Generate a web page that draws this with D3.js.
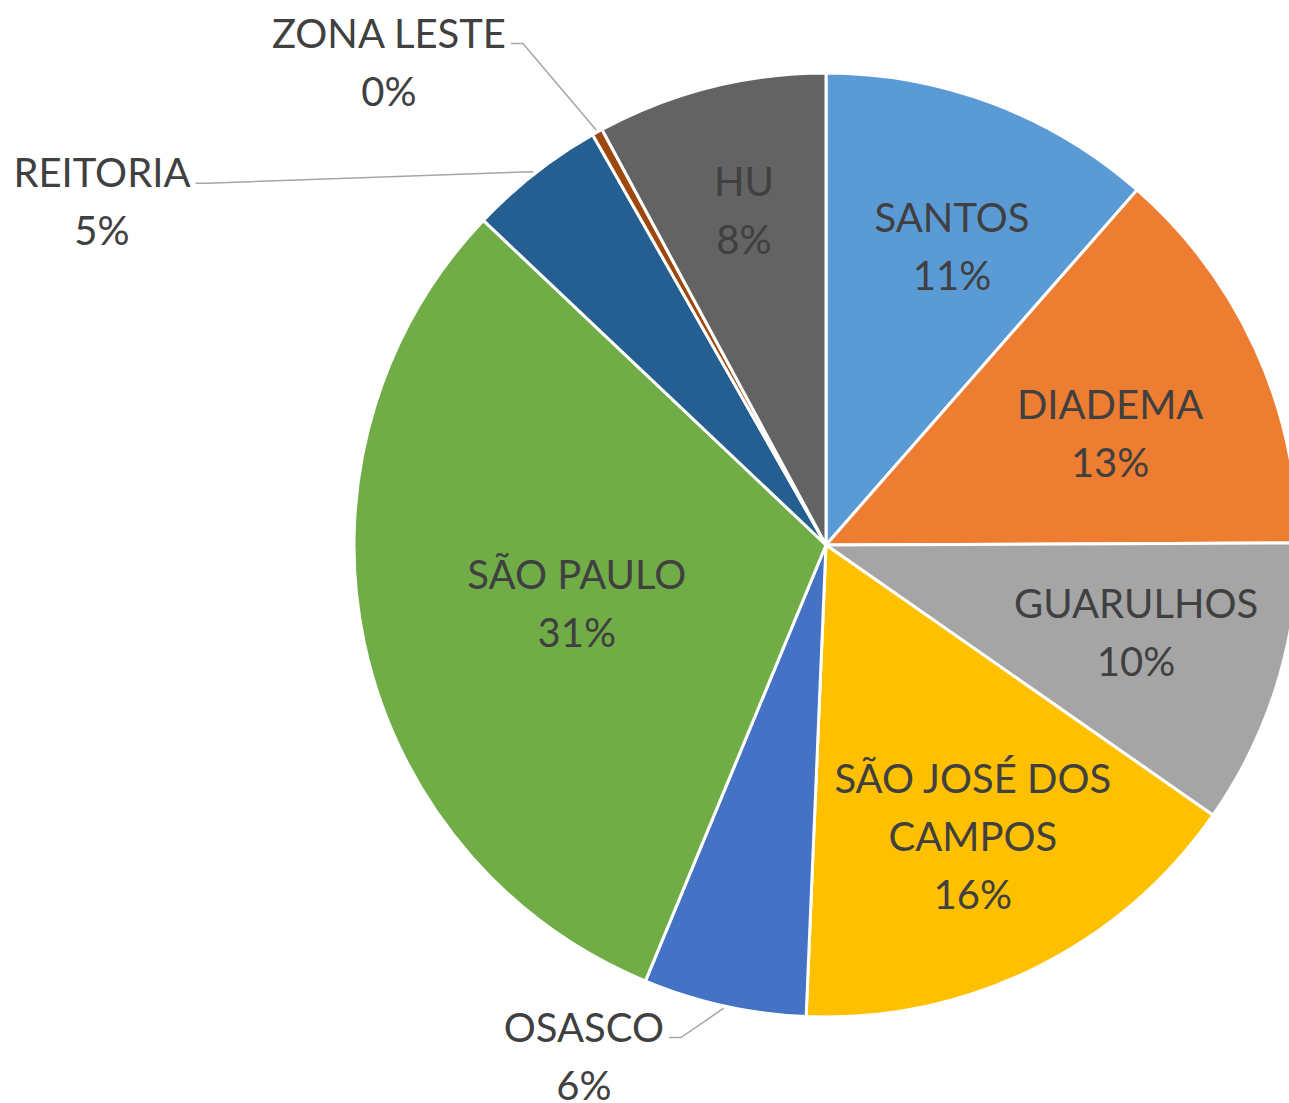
<!DOCTYPE html>
<html>
<head>
<meta charset="utf-8">
<script src="https://cdn.jsdelivr.net/npm/d3@7"></script>
<style>
  body { margin: 0; background: #fff; }
  text { font-family: Lato, "Open Sans", sans-serif; fill: #404040; }
</style>
</head>
<body>
<svg id="pie"></svg>
<script>
// campus names, clockwise from 12 o'clock
var campi = ["SANTOS", "DIADEMA", "GUARULHOS", "SÃO JOSÉ DOS CAMPOS", "OSASCO",
             "SÃO PAULO", "REITORIA", "ZONA LESTE", "HU"];

// share of each campus (in %)
var shares = [11.45, 13.48, 9.77, 15.97, 5.58, 30.82, 4.70, 0.36, 7.87];

// Office palette
var sliceColors = ["#5B9BD5", "#ED7D31", "#A5A5A5", "#FFC000", "#4472C4",
                   "#70AD47", "#255E91", "#9E480E", "#636363"];

// labels placed outside the pie with a leader line
var outsideLabels = ["OSASCO", "REITORIA", "ZONA LESTE"];

var width = 1289, height = 1103;
var cx = 826, cy = 545, radius = 472;
var fontSize = 40, lineGap = 58;

var svg = d3.select("#pie")
    .attr("width", width)
    .attr("height", height);

var g = svg.append("g")
    .attr("transform", "translate(" + cx + "," + cy + ")");

var color = d3.scaleOrdinal().domain(campi).range(sliceColors);

var pie = d3.pie().sort(null).value(d => d.value);
var data = campi.map((name, i) => ({ name: name, value: shares[i] }));
var arcs = pie(data);
var total = d3.sum(shares);
var pct = d3.format(".0%");

var arc = d3.arc().innerRadius(0).outerRadius(radius);

// slices
g.selectAll("path.slice")
    .data(arcs)
    .enter()
    .append("path")
    .attr("class", "slice")
    .attr("d", arc)
    .attr("fill", d => color(d.data.name))
    .attr("stroke", "#fff")
    .attr("stroke-width", 3)
    .attr("stroke-linejoin", "round");

// point on a circle for a given angle (0 = up, clockwise)
function polar(angle, r) {
    return [Math.sin(angle) * r, -Math.cos(angle) * r];
}

// break a name into lines no wider than maxW
function wrapLines(name, maxW) {
    var probe = g.append("text").style("font-size", fontSize + "px");
    var words = name.split(" "), lines = [], cur = "";
    words.forEach(w => {
        var test = cur ? cur + " " + w : w;
        probe.text(test);
        if (probe.node().getComputedTextLength() > maxW && cur) {
            lines.push(cur);
            cur = w;
        } else {
            cur = test;
        }
    });
    lines.push(cur);
    probe.remove();
    return lines;
}

// draw a centered block of lines, block centre at (x, y)
function drawLabel(lines, x, y) {
    var t = g.append("text")
        .attr("text-anchor", "middle")
        .style("font-size", fontSize + "px");
    var top = y - (lines.length - 1) * lineGap / 2;
    lines.forEach((l, i) => {
        t.append("tspan")
            .attr("x", x)
            .attr("y", top + i * lineGap + fontSize * 0.36)
            .text(l);
    });
    return t;
}

// label block centres relative to the pie centre, in radii (Excel "best fit")
var labelPos = {
    "SANTOS":              [0.267, -0.633],
    "DIADEMA":             [0.602, -0.235],
    "GUARULHOS":           [0.657, 0.186],
    "SÃO JOSÉ DOS CAMPOS": [0.311, 0.617],
    "SÃO PAULO":           [-0.528, 0.125],
    "HU":                  [-0.174, -0.708],
    "OSASCO":              [-0.513, 1.083],
    "REITORIA":            [-1.534, -0.727],
    "ZONA LESTE":          [-0.926, -1.023]
};

arcs.forEach(d => {
    var name = d.data.name;
    var pos = labelPos[name];
    var lx = pos[0] * radius, ly = pos[1] * radius;
    var outside = outsideLabels.indexOf(name) >= 0;
    var lines = (outside ? [name] : wrapLines(name, 300))
        .concat([pct(d.data.value / total)]);
    var t = drawLabel(lines, lx, ly);

    if (outside) {
        // leader line: from right of the name, short flat run, then to the slice
        var mid = (d.startAngle + d.endAngle) / 2;
        var nameW = t.select("tspan").node().getComputedTextLength();
        var lineY = ly - lineGap / 2 + fontSize * 0.36 - 4;
        var x0 = lx + nameW / 2 + 5;
        var tip = polar(mid, radius * 1.005);
        g.insert("path", "text")
            .attr("d", d3.line()([[x0, lineY], [x0 + 12, lineY], tip]))
            .attr("fill", "none")
            .attr("stroke", "#A6A6A6")
            .attr("stroke-width", 1.5);
    }
});
</script>
</body>
</html>
